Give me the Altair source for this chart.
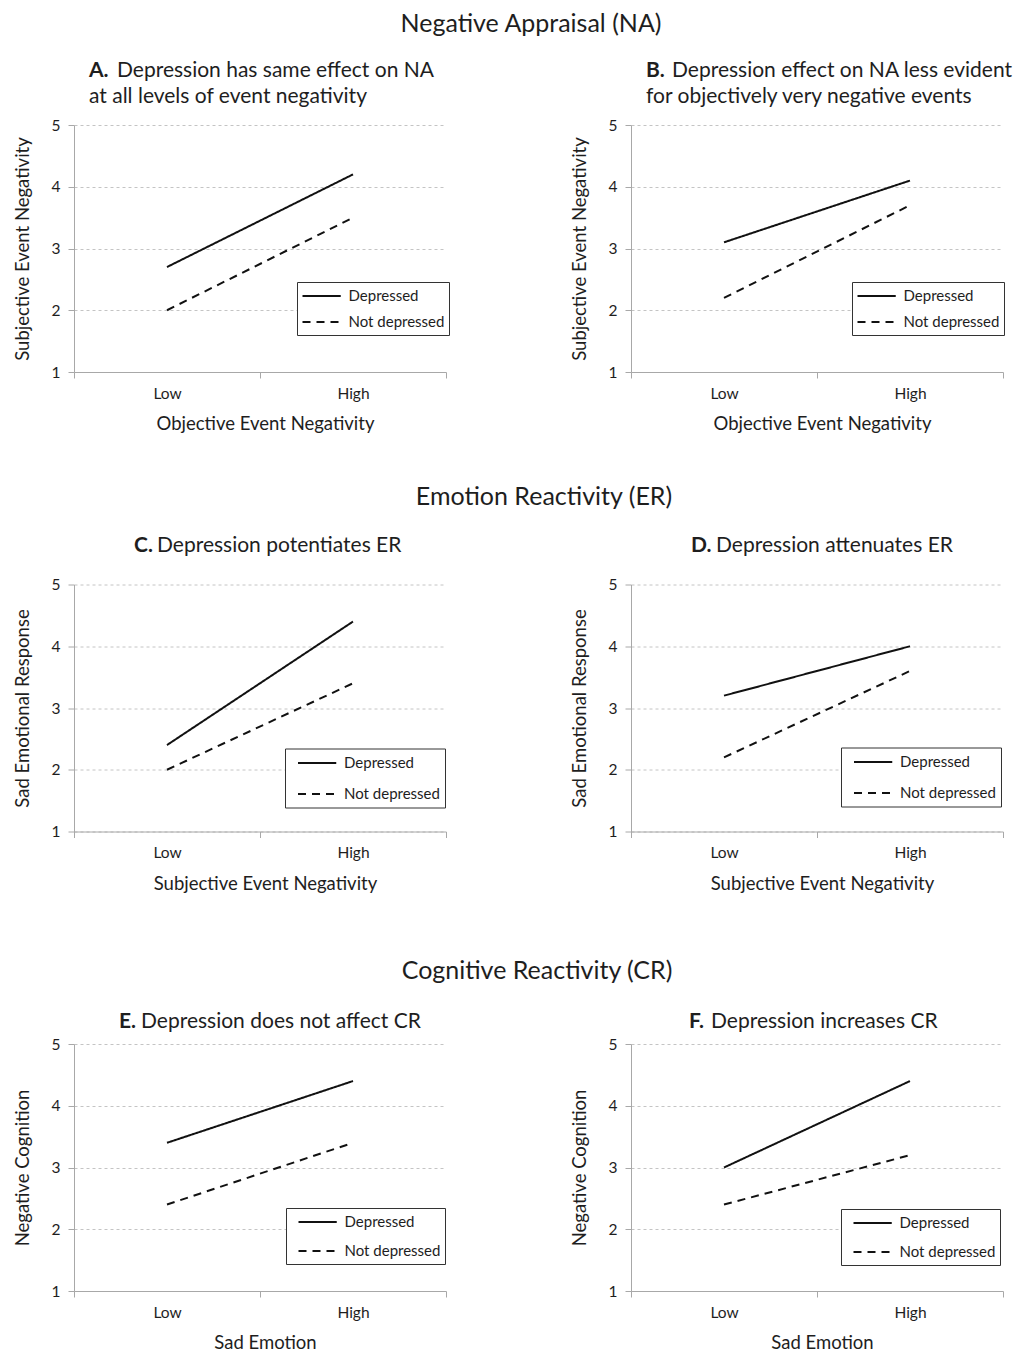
import altair as alt
import pandas as pd

# ---------------- data ----------------
levels = ["Low", "High"]
groups = ["Depressed", "Not depressed"]
y_ticks = [1, 2, 3, 4, 5]

# values at [Low, High]
a_dep = [2.7, 4.2]
a_not = [2.0, 3.5]
b_dep = [3.1, 4.1]
b_not = [2.2, 3.7]
c_dep = [2.4, 4.4]
c_not = [2.0, 3.4]
d_dep = [3.2, 4.0]
d_not = [2.2, 3.6]
e_dep = [3.4, 4.4]
e_not = [2.4, 3.4]
f_dep = [3.0, 4.4]
f_not = [2.4, 3.2]

letters = ["A.", "B.", "C.", "D.", "E.", "F."]
title_line1 = [
    "Depression has same effect on NA",
    "Depression effect on NA less evident",
    "Depression potentiates ER",
    "Depression attenuates ER",
    "Depression does not affect CR",
    "Depression increases CR",
]
title_line2 = [
    "at all levels of event negativity",
    "for objectively very negative events",
    "", "", "", "",
]
y_titles = ["Subjective Event Negativity", "Subjective Event Negativity",
            "Sad Emotional Response", "Sad Emotional Response",
            "Negative Cognition", "Negative Cognition"]
x_titles = ["Objective Event Negativity", "Objective Event Negativity",
            "Subjective Event Negativity", "Subjective Event Negativity",
            "Sad Emotion", "Sad Emotion"]
sections = ["Negative Appraisal (NA)", "Emotion Reactivity (ER)",
            "Cognitive Reactivity (CR)"]

series = [(a_dep, a_not), (b_dep, b_not), (c_dep, c_not),
          (d_dep, d_not), (e_dep, e_not), (f_dep, f_not)]

# ---------------- style / layout ----------------
FONT = "Lato"
INK = "#1e1e1e"
W, H = 372, 247

# (letter x, rest x, line1 y, line2 y)
title_pos = [(15, 43, -54, -28), (15, 41, -54, -28),
             (60, 83, -39, None), (60, 85, -39, None),
             (45, 67, -22, None), (58, 80, -22, None)]
# (legendX, legendY, padding, rowPadding, symbolOffset, wide)
legend_pos = [(223, 157, 4.5, 8, 0, False), (221, 157, 4.5, 8, 0, False),
              (211, 164, 5, 13, 7, True), (210, 163, 5, 13, 7, True),
              (212, 164, 4.5, 11, 7, True), (210, 165, 4.5, 11, 7, True)]
# section title (x center, y center) relative to left panel of the row
section_pos = [(457, -101), (470, -88), (463, -73)]


def text_layer(txt, x, y, size, weight="normal", align="left"):
    return alt.Chart(pd.DataFrame({"t": [txt]})).mark_text(
        align=align, baseline="middle", fontSize=size, fontWeight=weight,
        font=FONT, color=INK
    ).encode(x=alt.value(x), y=alt.value(y), text="t:N")


def panel(i):
    dep, notdep = series[i]
    df = pd.DataFrame({
        "level": levels * 2,
        "group": [groups[0]] * 2 + [groups[1]] * 2,
        "value": dep + notdep,
    })
    lx, ly, lpad, rp, soff, wide = legend_pos[i]
    legend_kw = dict(
        orient="none", legendX=lx, legendY=ly, title=None,
        strokeColor="#333", fillColor="white", padding=lpad,
        symbolType="M-1,0H3.5", symbolSize=289, symbolStrokeWidth=2,
        symbolStrokeColor="#111", labelOffset=28,
        labelFont=FONT, labelFontSize=15, labelColor=INK,
        rowPadding=rp)
    if wide:
        legend_kw["symbolOffset"] = soff
        legend_kw["labelExpr"] = "datum.label + '\u2002\u2002'"
    lines = alt.Chart(df).mark_line(strokeWidth=2, color="#111").encode(
        x=alt.X("level:N", sort=levels, bandPosition=0.5,
                scale=alt.Scale(type="band", paddingInner=0, paddingOuter=0),
                axis=alt.Axis(title=x_titles[i], tickBand="extent", labelAngle=0,
                              grid=False, tickSize=6, labelPadding=8,
                              titlePadding=13, titleX=W / 2 + 5)),
        y=alt.Y("value:Q", scale=alt.Scale(domain=[1, 5], nice=False, zero=False),
                axis=alt.Axis(values=y_ticks, format="d", title=y_titles[i],
                              grid=True, gridDash=[3, 3], gridColor="#c4c4c4",
                              tickSize=6, labelPadding=8, titlePadding=19)),
        strokeDash=alt.StrokeDash(
            "group:N", sort=groups,
            scale=alt.Scale(domain=groups, range=[[1, 0], [8, 6]]),
            legend=alt.Legend(**legend_kw)),
    )
    lx1, rx1, y1, y2 = title_pos[i]
    layers = [lines,
              text_layer(letters[i], lx1, y1, 21, weight="bold"),
              text_layer(title_line1[i], rx1, y1, 21)]
    if title_line2[i]:
        layers.append(text_layer(title_line2[i], lx1, y2, 21))
    if i % 2 == 0:
        sx, sy = section_pos[i // 2]
        layers.append(text_layer(sections[i // 2], sx, sy, 25, align="center"))
    return alt.layer(*layers).properties(width=W, height=H)


chart = alt.concat(
    *[panel(i) for i in range(6)],
    columns=2, bounds="flush", spacing={"row": 212.5, "column": 185},
).resolve_scale(strokeDash="independent").resolve_legend(
    strokeDash="independent"
).properties(
    padding={"top": 4, "left": 5, "right": 5, "bottom": 5}
).configure_view(strokeWidth=0).configure_axis(
    labelFont=FONT, titleFont=FONT, labelFontSize=15.5, titleFontSize=18.5,
    titleFontWeight="normal", labelColor=INK, titleColor=INK,
    domainColor="#a8a8a8", tickColor="#a8a8a8",
)

chart.save("out.html", embed_options={"renderer": "svg", "actions": False})
